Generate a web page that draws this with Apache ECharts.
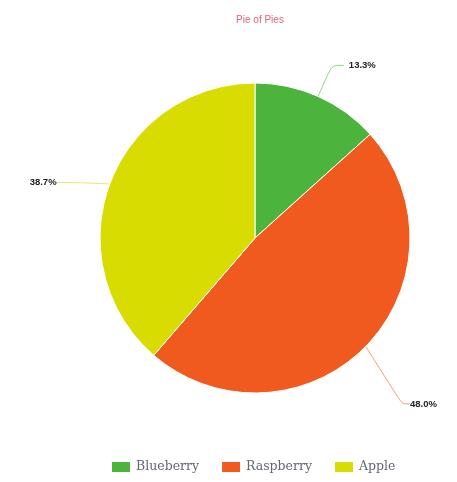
<!DOCTYPE html>
<html><head><meta charset="utf-8">
<script src="https://cdn.jsdelivr.net/npm/echarts@6/dist/echarts.min.js"></script>
<style>html,body{margin:0;padding:0;background:#fff}#c{width:457px;height:482px}</style>
</head><body><div id="c"></div>
<script>
var categories = ['Blueberry', 'Raspberry', 'Apple'];
var values = [20, 72, 58];
var colors = ['#4cb43c', '#f05a1e', '#d8dc00'];

// per-slice label tick tuning (style only)
var tickLen = [34, 55, 30];
var tickLen2 = [12, 8, 20];
var labelShift = [[0, 0], [-8, 19], [0, 9]];

var chart = echarts.init(document.getElementById('c'));
chart.setOption({
  animation: false,
  title: {text: 'Pie of Pies', left: 255, top: 10, textAlign: 'center',
    textStyle: {fontSize: 10, fontWeight: 'normal', color: '#e0607a', fontFamily: 'Liberation Sans'}},
  legend: {bottom: 3, left: 105, itemWidth: 20, itemHeight: 12, itemGap: 21,
    textStyle: {fontFamily: 'DejaVu Serif', fontSize: 12.5, color: '#667'},
    data: categories, icon: 'rect'},
  series: [{
    type: 'pie', center: [255, 238], radius: 155, startAngle: 90, clockwise: true,
    data: categories.map(function(n, i){return {name: n, value: values[i], itemStyle: {color: colors[i]},
      labelLine:{length: tickLen[i], length2: tickLen2[i], lineStyle:{color: colors[i], opacity: 0.6}}};}),
    itemStyle: {borderColor: '#fff', borderWidth: 1},
    label: {formatter: function(p){return p.percent.toFixed(1) + '%';}, fontSize: 9.5, fontWeight: 'bold', color: '#222', fontFamily: 'Liberation Sans'},
    labelLine: {smooth: 0.3},
    labelLayout: function(p){
      var s = labelShift[p.dataIndex];
      if (!s[0] && !s[1]) return {};
      var r = p.labelRect;
      var ax = (p.align === 'right') ? r.x + r.width : r.x;
      return {x: ax + s[0], y: r.y + r.height / 2 + s[1]};
    }
  }]
});
</script></body></html>
